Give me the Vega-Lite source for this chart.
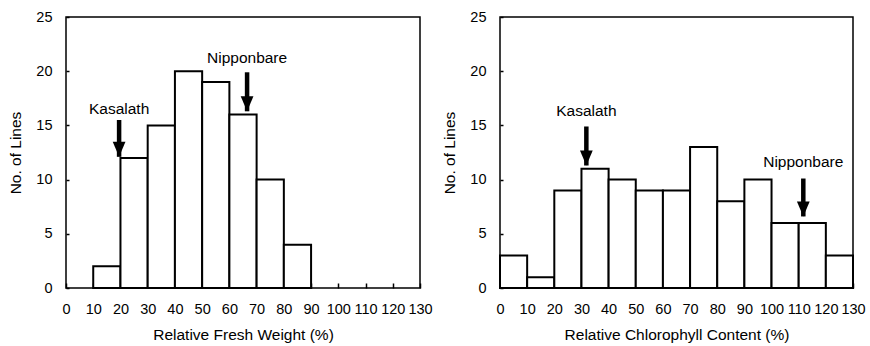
{
  "$schema": "https://vega.github.io/schema/vega-lite/v6.json",
  "background": "white",
  "padding": {"left": 8, "top": 8, "right": 5, "bottom": 0},
  "spacing": 9,
  "config": {
    "font": "Liberation Sans",
    "view": {"stroke": "black", "strokeWidth": 1.5},
    "axis": {
      "grid": false,
      "domain": false,
      "labelColor": "black",
      "titleColor": "black",
      "labelFont": "Liberation Sans",
      "titleFont": "Liberation Sans",
      "labelFontSize": 14.5,
      "titleFontSize": 15.5,
      "titleFontWeight": "normal",
      "tickColor": "black",
      "tickWidth": 1.5
    },
    "axisX": {"tickSize": -5, "labelPadding": 19, "titlePadding": 12, "labelFlush": false, "labelOverlap": false},
    "axisY": {"tickSize": -3, "labelPadding": 17, "titlePadding": 12}
  },
  "datasets": {
    "fw": [
      {"start": 10, "end": 20, "count": 2},
      {"start": 20, "end": 30, "count": 12},
      {"start": 30, "end": 40, "count": 15},
      {"start": 40, "end": 50, "count": 20},
      {"start": 50, "end": 60, "count": 19},
      {"start": 60, "end": 70, "count": 16},
      {"start": 70, "end": 80, "count": 10},
      {"start": 80, "end": 90, "count": 4}
    ],
    "cc": [
      {"start": 0, "end": 10, "count": 3},
      {"start": 10, "end": 20, "count": 1},
      {"start": 20, "end": 30, "count": 9},
      {"start": 30, "end": 40, "count": 11},
      {"start": 40, "end": 50, "count": 10},
      {"start": 50, "end": 60, "count": 9},
      {"start": 60, "end": 70, "count": 9},
      {"start": 70, "end": 80, "count": 13},
      {"start": 80, "end": 90, "count": 8},
      {"start": 90, "end": 100, "count": 10},
      {"start": 100, "end": 110, "count": 6},
      {"start": 110, "end": 120, "count": 6},
      {"start": 120, "end": 130, "count": 3}
    ],
    "fwArrows": [
      {"name": "Kasalath", "x": 19.5, "top": 15.5, "tip": 12.1, "labelY": 16.5},
      {"name": "Nipponbare", "x": 66.5, "top": 19.9, "tip": 16.3, "labelY": 21.2}
    ],
    "ccArrows": [
      {"name": "Kasalath", "x": 31.8, "top": 14.9, "tip": 11.3, "labelY": 16.3},
      {"name": "Nipponbare", "x": 111.7, "top": 10.1, "tip": 6.6, "labelY": 11.6}
    ]
  },
  "hconcat": [
    {
      "width": 354,
      "height": 271,
      "layer": [
        {
          "data": {"name": "fw"},
          "mark": {"type": "bar", "fill": "white", "stroke": "black", "strokeWidth": 2},
          "encoding": {
            "x": {"field": "start", "type": "quantitative",
              "scale": {"domain": [0, 130], "nice": false},
              "axis": {"values": [0,10,20,30,40,50,60,70,80,90,100,110,120,130], "title": "Relative Fresh Weight (%)"}},
            "x2": {"field": "end"},
            "y": {"field": "count", "type": "quantitative",
              "scale": {"domain": [0, 25], "nice": false},
              "axis": {"values": [0,5,10,15,20,25], "title": "No. of Lines"}},
            "y2": {"datum": 0}
          }
        },
        {
          "data": {"name": "fwArrows"},
          "mark": {"type": "rule", "strokeWidth": 4.5, "color": "black"},
          "encoding": {
            "x": {"field": "x", "type": "quantitative", "scale": {"domain": [0, 130], "nice": false},
              "axis": {"values": [0,10,20,30,40,50,60,70,80,90,100,110,120,130], "title": "Relative Fresh Weight (%)"}},
            "y": {"field": "top", "type": "quantitative", "scale": {"domain": [0, 25], "nice": false},
              "axis": {"values": [0,5,10,15,20,25], "title": "No. of Lines"}},
            "y2": {"field": "tip"}}
        },
        {
          "data": {"name": "fwArrows"},
          "mark": {"type": "point", "shape": "M-0.85,-2 L0.85,-2 L0,0 Z", "size": 225, "filled": true, "color": "black", "opacity": 1},
          "encoding": {
            "x": {"field": "x", "type": "quantitative", "scale": {"domain": [0, 130], "nice": false},
              "axis": {"values": [0,10,20,30,40,50,60,70,80,90,100,110,120,130], "title": "Relative Fresh Weight (%)"}},
            "y": {"field": "tip", "type": "quantitative", "scale": {"domain": [0, 25], "nice": false},
              "axis": {"values": [0,5,10,15,20,25], "title": "No. of Lines"}}}
        },
        {
          "data": {"name": "fwArrows"},
          "mark": {"type": "text", "fontSize": 15.5, "color": "black", "font": "Liberation Sans"},
          "encoding": {
            "x": {"field": "x", "type": "quantitative", "scale": {"domain": [0, 130], "nice": false},
              "axis": {"values": [0,10,20,30,40,50,60,70,80,90,100,110,120,130], "title": "Relative Fresh Weight (%)"}},
            "y": {"field": "labelY", "type": "quantitative", "scale": {"domain": [0, 25], "nice": false},
              "axis": {"values": [0,5,10,15,20,25], "title": "No. of Lines"}},
            "text": {"field": "name"}}
        }
      ]
    },
    {
      "width": 353,
      "height": 271,
      "layer": [
        {
          "data": {"name": "cc"},
          "mark": {"type": "bar", "fill": "white", "stroke": "black", "strokeWidth": 2},
          "encoding": {
            "x": {"field": "start", "type": "quantitative",
              "scale": {"domain": [0, 130], "nice": false},
              "axis": {"values": [0,10,20,30,40,50,60,70,80,90,100,110,120,130], "title": "Relative Chlorophyll Content (%)"}},
            "x2": {"field": "end"},
            "y": {"field": "count", "type": "quantitative",
              "scale": {"domain": [0, 25], "nice": false},
              "axis": {"values": [0,5,10,15,20,25], "title": "No. of Lines"}},
            "y2": {"datum": 0}
          }
        },
        {
          "data": {"name": "ccArrows"},
          "mark": {"type": "rule", "strokeWidth": 4.5, "color": "black"},
          "encoding": {
            "x": {"field": "x", "type": "quantitative", "scale": {"domain": [0, 130], "nice": false},
              "axis": {"values": [0,10,20,30,40,50,60,70,80,90,100,110,120,130], "title": "Relative Chlorophyll Content (%)"}},
            "y": {"field": "top", "type": "quantitative", "scale": {"domain": [0, 25], "nice": false},
              "axis": {"values": [0,5,10,15,20,25], "title": "No. of Lines"}},
            "y2": {"field": "tip"}}
        },
        {
          "data": {"name": "ccArrows"},
          "mark": {"type": "point", "shape": "M-0.85,-2 L0.85,-2 L0,0 Z", "size": 225, "filled": true, "color": "black", "opacity": 1},
          "encoding": {
            "x": {"field": "x", "type": "quantitative", "scale": {"domain": [0, 130], "nice": false},
              "axis": {"values": [0,10,20,30,40,50,60,70,80,90,100,110,120,130], "title": "Relative Chlorophyll Content (%)"}},
            "y": {"field": "tip", "type": "quantitative", "scale": {"domain": [0, 25], "nice": false},
              "axis": {"values": [0,5,10,15,20,25], "title": "No. of Lines"}}}
        },
        {
          "data": {"name": "ccArrows"},
          "mark": {"type": "text", "fontSize": 15.5, "color": "black", "font": "Liberation Sans"},
          "encoding": {
            "x": {"field": "x", "type": "quantitative", "scale": {"domain": [0, 130], "nice": false},
              "axis": {"values": [0,10,20,30,40,50,60,70,80,90,100,110,120,130], "title": "Relative Chlorophyll Content (%)"}},
            "y": {"field": "labelY", "type": "quantitative", "scale": {"domain": [0, 25], "nice": false},
              "axis": {"values": [0,5,10,15,20,25], "title": "No. of Lines"}},
            "text": {"field": "name"}}
        }
      ]
    }
  ]
}
